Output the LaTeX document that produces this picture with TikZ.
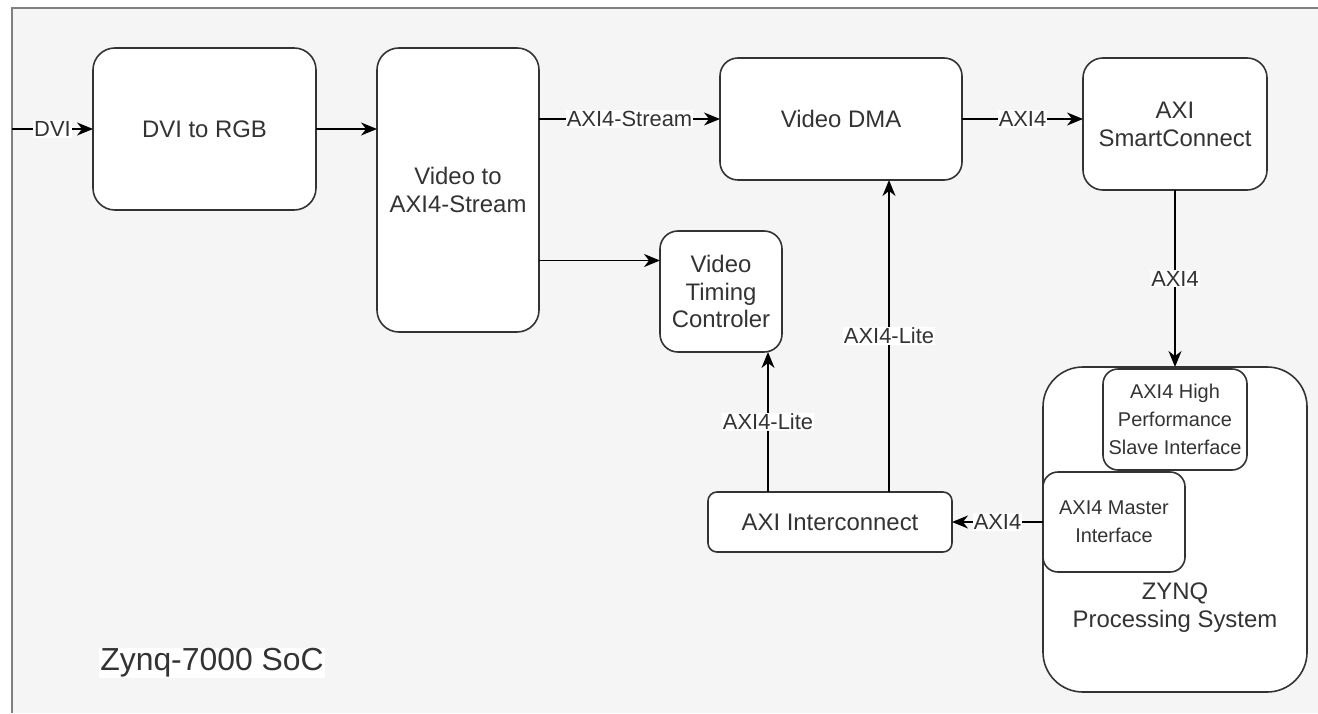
\documentclass[tikz,border=0pt]{standalone}
\usepackage{fontspec}
\setmainfont{Liberation Sans}
\usetikzlibrary{arrows.meta}

\definecolor{socfill}{HTML}{F5F5F5}
\definecolor{socline}{HTML}{808080}
\definecolor{ink}{HTML}{333333}

\tikzset{
  block/.style={draw=ink, fill=white, line width=1.6pt, rounded corners=#1,
                inner sep=0pt, outer sep=0pt, align=center, text=ink,
                font=\fontsize{24}{28}\selectfont},
  block/.default=20pt,
  iface/.style={block=15pt, font=\fontsize{20}{28}\selectfont},
  lbl/.style={fill=white, inner sep=1pt, text=ink, font=\fontsize{22}{26}\selectfont},
}

\begin{document}
\begin{tikzpicture}[x=1bp,y=-1bp,>={Stealth[length=16pt,width=13pt,inset=5pt]},
                    line width=1.7pt]
  \useasboundingbox (0,0) rectangle (1318,713);
  % SoC area
  \fill[socfill] (12,8) rectangle (1318,713);
  \draw[socline, line width=1.8pt] (1318,8) -- (12,8) -- (12,713);
  \node[lbl, font=\fontsize{32}{36}\selectfont] (soc) at (212,663) {Zynq-7000 SoC};

  % blocks
  \node[block=22pt, minimum width=223bp, minimum height=162bp] (dvi)   at (204.5,129) {DVI to RGB};
  \node[block=22pt, minimum width=162bp, minimum height=284bp] (v2s)   at (458,190)   {Video to\\AXI4-Stream};
  \node[block=18pt, minimum width=242bp, minimum height=122bp] (dma)   at (841,119)   {Video DMA};
  \node[block=20pt, minimum width=184bp, minimum height=132bp] (smart) at (1175,124)  {AXI\\SmartConnect};
  \node[block=18pt, minimum width=122bp, minimum height=121bp] (vtc)   at (721,291.5) {Video\\Timing\\Controler};
  \node[block=9pt,  minimum width=244bp, minimum height=60bp]  (axiic) at (830,522)   {AXI Interconnect};
  \node[block=40pt, minimum width=264bp, minimum height=325bp] (zynq)  at (1175,529.5) {};
  \node[text=ink, align=center, font=\fontsize{24}{28}\selectfont] (zynqlbl) at (1175,608) {ZYNQ\\Processing System};
  \node[iface, minimum width=144bp, minimum height=101bp] (hp)     at (1175,419.5) {AXI4 High\\Performance\\Slave Interface};
  \node[iface, minimum width=142bp, minimum height=100bp] (master) at (1114,522)   {AXI4 Master\\Interface};

  \coordinate (dviin) at (12,129);
  \coordinate (vtcin) at ([yshift=31bp]vtc.west);

  % connections
  \draw[->] (dviin) -- node[lbl]{DVI} (dvi.west);
  \draw[->] (dvi.east) -- (dvi.east -| v2s.west);
  \draw[->] (v2s.east |- dma.west) -- node[lbl]{AXI4-Stream} (dma.west);
  \draw[->] (v2s.east |- vtcin) -- (vtcin);
  \draw[->] (dma.east) -- node[lbl]{AXI4} (dma.east -| smart.west);
  \draw[->] (smart.south) -- node[lbl]{AXI4} (zynq.north);
  \draw[->] (master.west) -- node[lbl]{AXI4} (master.west -| axiic.east);
  \draw[->] ([xshift=-62bp]axiic.north) -- node[lbl]{AXI4-Lite} ([xshift=-62bp]axiic.north |- vtc.south);
  \draw[->] ([xshift=59bp]axiic.north) -- node[lbl]{AXI4-Lite} ([xshift=59bp]axiic.north |- dma.south);
\end{tikzpicture}
\end{document}
